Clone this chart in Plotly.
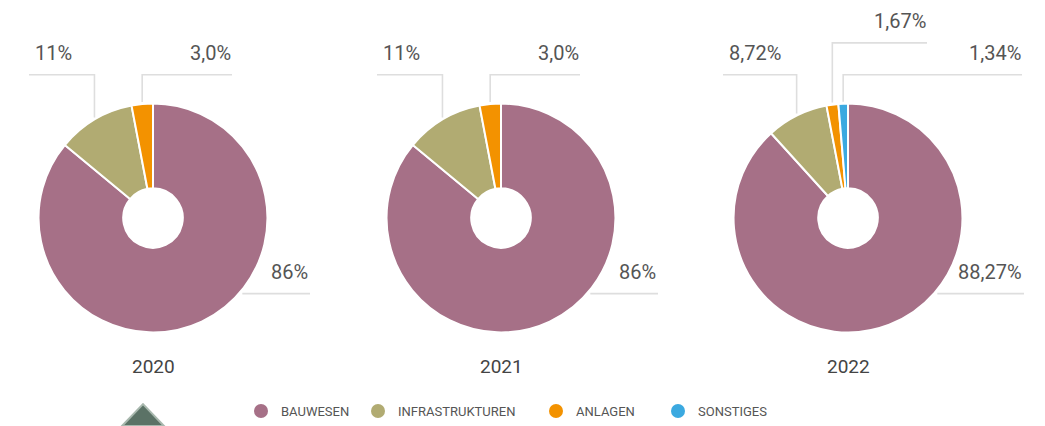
import math
import plotly.graph_objects as go

# ---------------- data ----------------
categories = ["BAUWESEN", "INFRASTRUKTUREN", "ANLAGEN", "SONSTIGES"]
colors = ["#a67087", "#b1ab72", "#f39200", "#3ba9e0"]
years = ["2020", "2021", "2022"]
values_2020 = [86, 11, 3.0]
values_2021 = [86, 11, 3.0]
values_2022 = [88.27, 8.72, 1.67, 1.34]
labels_2020 = ["86%", "11%", "3,0%"]
labels_2021 = ["86%", "11%", "3,0%"]
labels_2022 = ["88,27%", "8,72%", "1,67%", "1,34%"]

# ---------------- layout config (screen pixels) ----------------
WIN_W, WIN_H = 1045, 426
OFF = 8                     # default page body margin
W, H = WIN_W - OFF, WIN_H - OFF
centers_x = [153, 501, 848]
CY = 219
R = 115
HOLE = 0.26
# per slice leader style: (kind, level, side, horizontal end offset from cx)
leader_2020 = [("h", 76, 1, 157), ("v", 144, -1, -124), ("v", 144, 1, 79)]
leader_2021 = [("h", 76, 1, 157), ("v", 144, -1, -124), ("v", 144, 1, 79)]
leader_2022 = [("h", 76, 1, 176), ("v", 144, -1, -125), ("v", 176, 1, 79), ("v", 144, 1, 174)]
legend_circle_x = [260, 377, 555, 677]
LEGEND_Y = 413

series = [
    (values_2020, labels_2020, leader_2020),
    (values_2021, labels_2021, leader_2021),
    (values_2022, labels_2022, leader_2022),
]


def fx(x):
    return (x - OFF) / W


def fy(y):
    return 1 - (y - OFF) / H


fig = go.Figure()
shapes = []
annotations = []
LINE = dict(color="#dedede", width=1.6)
TXT = dict(family="Roboto", size=20, color="#555555")

for (vals, labs, leads), cx, yr in zip(series, centers_x, years):
    fig.add_trace(go.Pie(
        values=vals,
        labels=categories[:len(vals)],
        marker=dict(colors=colors[:len(vals)], line=dict(color="white", width=2)),
        hole=HOLE,
        sort=False,
        direction="clockwise",
        rotation=0,
        textinfo="none",
        hoverinfo="label+percent",
        showlegend=False,
        domain=dict(x=[fx(cx - R), fx(cx + R)], y=[fy(CY + R), fy(CY - R)]),
    ))
    total = sum(vals)
    cum = 0.0
    for v, lab, (kind, level, side, xend) in zip(vals, labs, leads):
        mid = (cum + v / 2) / total * 2 * math.pi
        cum += v
        if kind == "h":
            yline = CY + level
            xstart = cx + math.sqrt(R ** 2 - level ** 2) + 3
            xe = cx + xend
            shapes.append(dict(type="line", xref="paper", yref="paper",
                               x0=fx(xstart), x1=fx(xe), y0=fy(yline), y1=fy(yline), line=LINE))
            annotations.append(dict(x=fx(xe), y=fy(yline - 8), xref="paper", yref="paper",
                                    text=lab, showarrow=False, xanchor="right", yanchor="bottom",
                                    font=TXT))
        else:
            xa = cx + R * math.sin(mid)
            ya = CY - R * math.cos(mid) - 2
            yline = CY - level
            xe = cx + xend
            shapes.append(dict(type="path", xref="paper", yref="paper",
                               path=f"M {fx(xa)} {fy(ya)} L {fx(xa)} {fy(yline)} L {fx(xe)} {fy(yline)}",
                               line=LINE))
            if side < 0:
                annotations.append(dict(x=fx(xe + 4), y=fy(yline - 8), xref="paper", yref="paper",
                                        text=lab, showarrow=False, xanchor="left", yanchor="bottom",
                                        font=TXT))
            else:
                annotations.append(dict(x=fx(xe + 1), y=fy(yline - 8), xref="paper", yref="paper",
                                        text=lab, showarrow=False, xanchor="right", yanchor="bottom",
                                        font=TXT))
    annotations.append(dict(x=fx(cx), y=fy(368), xref="paper", yref="paper", text=yr,
                            showarrow=False, xanchor="center", yanchor="middle",
                            font=dict(family="Roboto", size=19, color="#444444")))

# legend entries, each in its own legend box so they can be spaced like the original
legend_names = ["legend", "legend2", "legend3", "legend4"]
legend_layout = {}
for cat, col, lname, lx in zip(categories, colors, legend_names, legend_circle_x):
    fig.add_trace(go.Scatter(x=[None], y=[None], mode="markers", name=cat, legend=lname,
                             marker=dict(symbol="circle", size=14, color=col)))
    legend_layout[lname] = dict(
        orientation="h", x=fx(lx - 19), y=fy(LEGEND_Y), xanchor="left", yanchor="middle",
        font=dict(family="Roboto", size=13, color="#555555"),
        itemclick=False, itemdoubleclick=False, bgcolor="rgba(0,0,0,0)")

# decorative logo fragment (bottom-left)
shapes.append(dict(type="path", xref="paper", yref="paper",
                   path=f"M {fx(122)} {fy(428)} L {fx(143)} {fy(406)} L {fx(164)} {fy(428)} Z",
                   fillcolor="#3f5a4c", line=dict(color="#9aaca0", width=2), opacity=0.85))

fig.update_layout(
    width=W, height=H, autosize=False,
    margin=dict(l=0, r=0, t=0, b=0),
    paper_bgcolor="white", plot_bgcolor="white",
    xaxis=dict(visible=False), yaxis=dict(visible=False),
    shapes=shapes, annotations=annotations,
    showlegend=True,
    **legend_layout,
)

fig.write_html("out.html")
